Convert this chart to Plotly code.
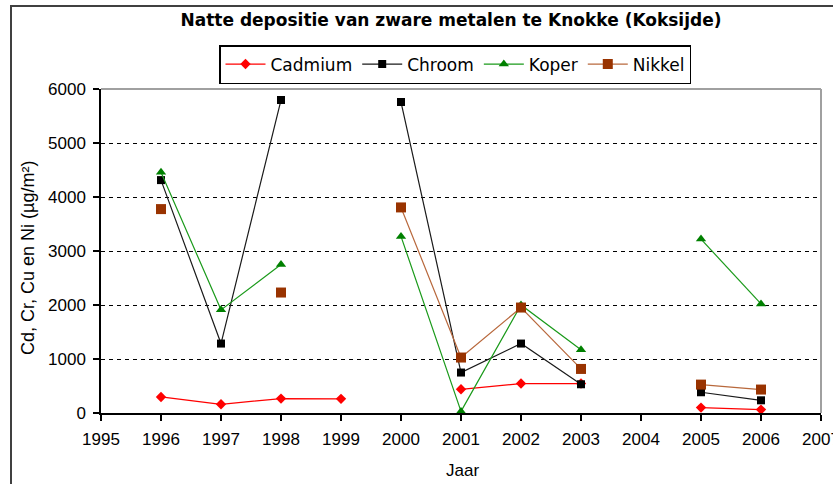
import plotly.graph_objects as go

years = [1996, 1997, 1998, 1999, 2000, 2001, 2002, 2003, 2004, 2005, 2006]
cadmium = [297, 161, 267, 262, None, 439, 545, 545, None, 100, 63]
chroom = [4313, 1286, 5796, None, 5759, 749, 1286, 532, None, 384, 235]
koper = [4460, 1910, 2750, None, 3270, 30, 2000, 1170, None, 3220, 2020]
nikkel = [3776, None, 2231, None, 3807, 1027, 1953, 816, None, 526, 434]

title_text = "Natte depositie van zware metalen te Knokke (Koksijde)"
y_title = "Cd, Cr, Cu en Ni (µg/m²)"
x_title = "Jaar"

FONT = "Liberation Sans, Arial, sans-serif"
WIDE = "DejaVu Sans, Verdana, sans-serif"

series = [
    ("Cadmium", cadmium, "#FF0000", "#FF0000", "diamond", 8),
    ("Chroom", chroom, "#1a1a1a", "#000000", "square", 8),
    ("Koper", koper, "#1a9a1a", "#008000", "triangle-up", 9),
    ("Nikkel", nikkel, "#b8683c", "#993300", "square", 10),
]

fig = go.Figure()
for name, vals, lc, mc, sym, sz in series:
    fig.add_trace(go.Scatter(
        x=years, y=vals, name=name, mode="lines+markers",
        line=dict(color=lc, width=1.2),
        marker=dict(color=mc, symbol=sym, size=sz, line=dict(width=0)),
        connectgaps=False,
    ))

L, R, T, B = 101, 12, 89, 71
W, H = 833, 484
pw, ph = W - L - R, H - T - B

def px_x(p):
    return (p - L) / pw

def px_y(p):
    return (H - B - p) / ph

fig.update_layout(
    width=W, height=H,
    margin=dict(l=L, r=R, t=T, b=B, pad=0, autoexpand=False),
    paper_bgcolor="white", plot_bgcolor="white",
    font=dict(family=FONT, size=17, color="black"),
    title=dict(text="<b>" + title_text + "</b>", x=451 / W, xanchor="center",
               y=1 - 20 / H, yanchor="middle", yref="container",
               font=dict(family=WIDE, size=17, color="black")),
    showlegend=True,
    legend=dict(orientation="h", x=px_x(455), xanchor="center",
                y=px_y(45), yanchor="top",
                bordercolor="black", borderwidth=1.5, bgcolor="white",
                font=dict(family=WIDE, size=17, color="black"),
                itemwidth=40, tracegroupgap=0),
    xaxis=dict(range=[1995, 2007], dtick=1, tick0=1995, showgrid=False,
               zeroline=False, showline=True, linecolor="black", linewidth=1.5,
               ticks="outside", ticklen=6, tickcolor="black", tickwidth=1.5,
               ticklabelstandoff=4, automargin=False, ticklabeloverflow="allow",
               tickfont=dict(family=FONT, size=17, color="black")),
    yaxis=dict(range=[0, 6000], dtick=1000, showgrid=True, gridcolor="black",
               griddash="4px,4px", gridwidth=1.2,
               zeroline=False, showline=True, linecolor="black", linewidth=1.5,
               ticks="outside", ticklen=6, tickcolor="black", tickwidth=1.5,
               ticklabelstandoff=4, automargin=False, ticklabeloverflow="allow",
               tickfont=dict(family=FONT, size=17, color="black")),
    annotations=[
        dict(text=y_title, xref="paper", yref="paper", x=px_x(28), y=px_y(258),
             xanchor="center", yanchor="middle", textangle=-90, showarrow=False,
             font=dict(family=FONT, size=18, color="black")),
        dict(text=x_title, xref="paper", yref="paper", x=px_x(462), y=px_y(470),
             xanchor="center", yanchor="middle", showarrow=False,
             font=dict(family=FONT, size=17, color="black")),
    ],
    shapes=[
        dict(type="rect", xref="paper", yref="paper",
             x0=px_x(11), x1=px_x(900), y0=px_y(6), y1=px_y(600),
             line=dict(color="#404040", width=2), fillcolor="rgba(0,0,0,0)",
             layer="below"),
        dict(type="line", xref="paper", yref="paper", x0=0, x1=1, y0=1, y1=1,
             line=dict(color="#a0a0a0", width=2), layer="above"),
        dict(type="line", xref="paper", yref="paper", x0=1, x1=1, y0=0, y1=1,
             line=dict(color="#a0a0a0", width=2), layer="above"),
    ],
)

fig.write_html("out.html", config={"displayModeBar": False},
               post_script="document.body.style.margin='0';")
